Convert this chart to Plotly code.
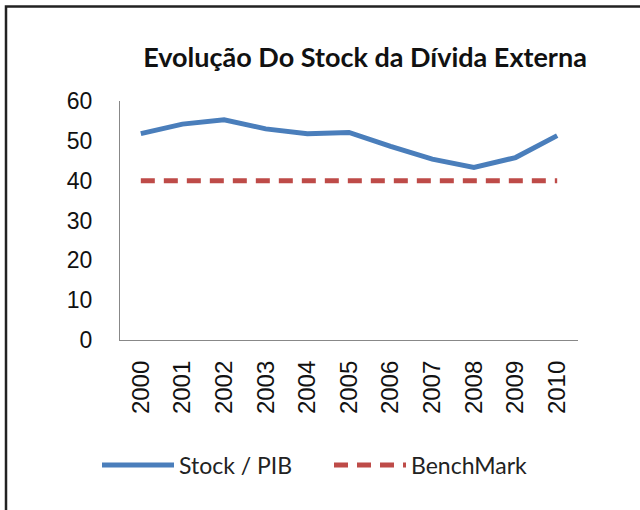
import plotly.graph_objects as go

years = ["2000", "2001", "2002", "2003", "2004", "2005", "2006", "2007", "2008", "2009", "2010"]
stock_pib = [51.8, 54.2, 55.3, 53.0, 51.8, 52.1, 48.6, 45.4, 43.3, 45.8, 51.3]
benchmark = [40, 40, 40, 40, 40, 40, 40, 40, 40, 40, 40]
y_ticks = [0, 10, 20, 30, 40, 50, 60]

W, H = 640, 510
L, R, T, B = 120, 62, 101, 170
pw, ph = W - L - R, H - T - B

def px_x(px):
    return (px - L) / pw

def px_y(py):
    return (H - B - py) / ph

fig = go.Figure()
fig.add_trace(go.Scatter(x=years, y=stock_pib, mode="lines", name="Stock / PIB",
                         line=dict(color="#4A7EBB", width=5)))
fig.add_trace(go.Scatter(x=years, y=benchmark, mode="lines", name="BenchMark",
                         line=dict(color="#BE4B48", width=5, dash="14px,9px")))

fig.update_layout(
    width=W, height=H,
    margin=dict(l=L, r=R, t=T, b=B),
    paper_bgcolor="white", plot_bgcolor="white",
    showlegend=True,
    legend=dict(orientation="h", x=px_x(97), y=px_y(465), xanchor="left", yanchor="middle",
                font=dict(family="Lato", size=23, color="#222"), itemwidth=72,
                entrywidth=145, entrywidthmode="pixels", tracegroupgap=0),
    title=dict(text="Evolução Do Stock da Dívida Externa", x=365 / W, xanchor="center",
               y=1 - 58 / H, yanchor="middle",
               font=dict(family="Lato", size=27, color="#111", weight="bold")),
    font=dict(family="Liberation Sans", color="#111"),
)
fig.update_xaxes(type="category", range=[-0.5, 10.5], showline=True, linecolor="#888",
                 linewidth=1.2, showgrid=False, tickangle=-90, ticks="",
                 tickfont=dict(family="Liberation Sans", size=24, color="#111"),
                 ticklabelstandoff=10)
fig.update_yaxes(range=[0, 60], tickvals=y_ticks, showline=True, linecolor="#888",
                 linewidth=1.2, showgrid=False, ticks="", zeroline=False,
                 tickfont=dict(family="Liberation Sans", size=23, color="#111"),
                 ticklabelstandoff=22)

# outer frame (partially visible)
fig.add_shape(type="rect", xref="paper", yref="paper", x0=px_x(6), x1=px_x(660),
              y0=px_y(530), y1=px_y(6.5), line=dict(color="#222", width=2.5),
              fillcolor="rgba(0,0,0,0)")

fig.write_html("out.html", post_script="document.body.style.margin='0';",
               config={"displayModeBar": False})
